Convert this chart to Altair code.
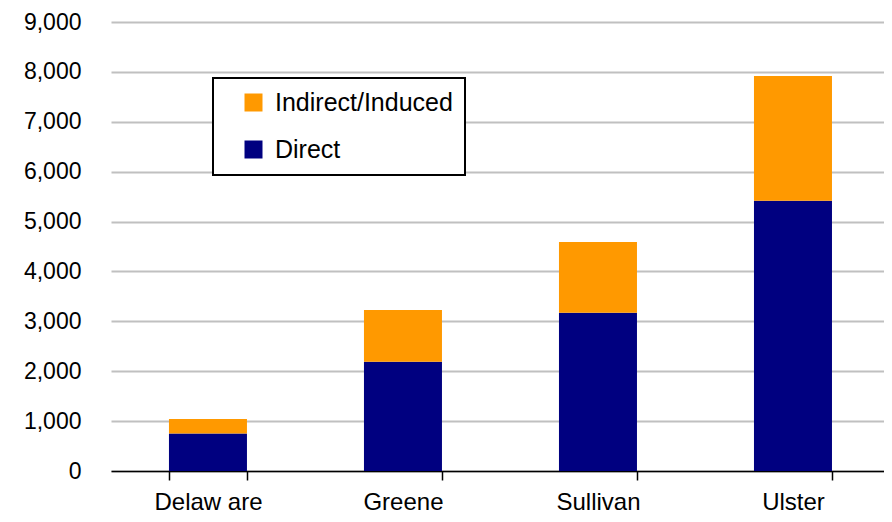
import altair as alt
import pandas as pd

counties = ["Delaw are", "Greene", "Sullivan", "Ulster"]
direct = [750, 2190, 3170, 5415]
indirect = [290, 1035, 1420, 2505]
series = ["Indirect/Induced", "Direct"]
colors = ["#FF9900", "#000080"]

rows = []
for c, d, i in zip(counties, direct, indirect):
    rows.append({"county": c, "series": "Direct", "value": d, "ord": 0})
    rows.append({"county": c, "series": "Indirect/Induced", "value": i, "ord": 1})
df = pd.DataFrame(rows)

font = "Liberation Sans"

chart = alt.Chart(df).mark_bar().encode(
    x=alt.X("county:N", sort=counties, title=None,
            scale=alt.Scale(paddingInner=0.6, paddingOuter=0.282, align=0.527),
            axis=alt.Axis(labelAngle=0, tickBand="extent", domainColor="black",
                          domainWidth=1.5, tickColor="black", tickWidth=1.5, tickSize=9,
                          labelBaseline="alphabetic", labelPadding=29,
                          labelFontSize=24, labelFont=font,
                          labelColor="black", grid=False)),
    y=alt.Y("value:Q", stack="zero", title=None,
            scale=alt.Scale(domain=[0, 9000], nice=False),
            axis=alt.Axis(values=list(range(0, 9001, 1000)), format=",d", domain=False,
                          ticks=False, labelPadding=30, labelFontSize=23, labelFont=font,
                          labelColor="black", gridColor="#c0c0c0", gridWidth=2)),
    color=alt.Color("series:N", scale=alt.Scale(domain=series, range=colors),
                    legend=alt.Legend(title=None, orient="none", legendX=102, legendY=56,
                                      symbolType="square", symbolSize=324,
                                      symbolStrokeWidth=0, labelFontSize=25,
                                      labelFont=font, labelColor="black",
                                      labelLimit=400,
                                      labelOffset=9, rowPadding=21, padding=12,
                                      symbolOffset=16,
                                      strokeColor="black", fillColor="white")),
    order=alt.Order("ord:Q"),
).properties(
    width=773, height=449,
    autosize=alt.AutoSizeParams(type="none"),
    padding={"left": 103, "top": 14, "right": 0, "bottom": 43},
).configure_view(stroke=None).configure_legend(strokeWidth=2)

chart.save("out.html", embed_options={"renderer": "svg", "actions": False})
